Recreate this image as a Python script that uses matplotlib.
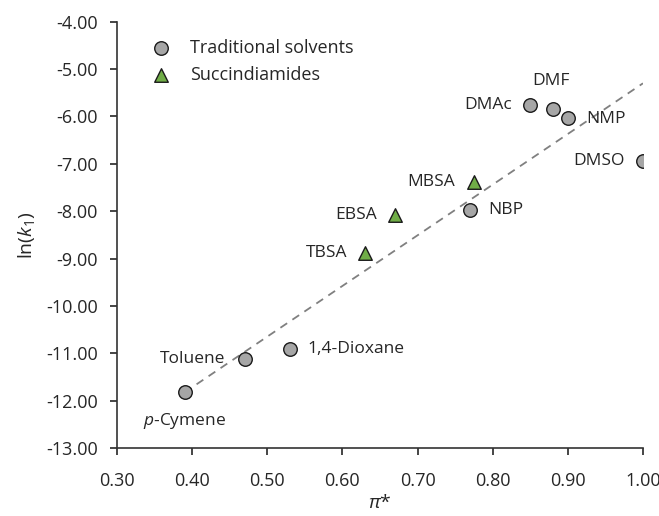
import matplotlib
matplotlib.use("Agg")
import matplotlib.pyplot as plt

plt.rcParams['font.family'] = ['Open Sans', 'DejaVu Sans']
plt.rcParams['mathtext.fontset'] = 'custom'
plt.rcParams['mathtext.rm'] = 'Open Sans'
plt.rcParams['mathtext.it'] = 'Open Sans:italic'

# Traditional solvents
trad_names = ['p-Cymene', 'Toluene', '1,4-Dioxane', 'NBP', 'DMAc', 'DMF', 'NMP', 'DMSO']
trad_x = [0.39, 0.47, 0.53, 0.77, 0.85, 0.88, 0.90, 1.00]
trad_y = [-11.81, -11.12, -10.90, -7.97, -5.76, -5.85, -6.04, -6.94]

# Succindiamides
succ_names = ['TBSA', 'EBSA', 'MBSA']
succ_x = [0.63, 0.67, 0.775]
succ_y = [-8.89, -8.08, -7.38]

# Trend line
fit_x = [0.39, 1.00]
fit_y = [-11.82, -5.30]

xticks = [0.3, 0.4, 0.5, 0.6, 0.7, 0.8, 0.9, 1.0]
yticks = [-13, -12, -11, -10, -9, -8, -7, -6, -5, -4]

# label placement (offset pixels, ha)
label_pos = {
    'p-Cymene': (0, -29, 'center'),
    'Toluene': (-19, 0, 'right'),
    '1,4-Dioxane': (18, 0, 'left'),
    'NBP': (18, 0, 'left'),
    'DMAc': (-18, 0, 'right'),
    'DMF': (-2, 28, 'center'),
    'NMP': (18, -1, 'left'),
    'DMSO': (-18, 0, 'right'),
    'TBSA': (-18, 0, 'right'),
    'EBSA': (-18, 0, 'right'),
    'MBSA': (-19, 0, 'right'),
}

txt = '#262626'
fs = 13
fig = plt.figure(figsize=(6.59, 5.16), dpi=100)
ax = fig.add_axes([0.1775, 0.1312, 0.9757 - 0.1775, 0.958 - 0.1312])

ax.plot(fit_x, fit_y, color='#808080', lw=1.3, ls=(0, (4.5, 3.5)), zorder=1)
ax.scatter(trad_x, trad_y, s=95, marker='o', facecolor='#A6A6A6', edgecolor='#1a1a1a',
           linewidth=1.0, zorder=3, label='Traditional solvents')
ax.scatter(succ_x, succ_y, s=95, marker='^', facecolor='#70AD47', edgecolor='#1a1a1a',
           linewidth=1.0, zorder=3, label='Succindiamides')

for names, xs, ys in [(trad_names, trad_x, trad_y), (succ_names, succ_x, succ_y)]:
    for n, x, y in zip(names, xs, ys):
        dx, dy, ha = label_pos[n]
        lab = r'$\mathit{p}$-Cymene' if n == 'p-Cymene' else n
        ax.annotate(lab, (x, y), xytext=(dx, dy), textcoords='offset pixels',
                    ha=ha, va='center', fontsize=12.5, color=txt, zorder=4)

ax.set_xlim(0.3, 1.0)
ax.set_ylim(-13, -4)
ax.set_xticks(xticks)
ax.set_yticks(yticks)
ax.set_xticklabels([f'{v:.2f}' for v in xticks])
ax.set_yticklabels([f'{v:.2f}' for v in yticks])
ax.tick_params(axis='both', labelsize=fs, colors=txt, length=5, width=1.2, direction='out')
ax.tick_params(axis='x', pad=12)
ax.tick_params(axis='y', pad=9)
for s in ['top', 'right']:
    ax.spines[s].set_visible(False)
for s in ['left', 'bottom']:
    ax.spines[s].set_color('#333333')
    ax.spines[s].set_linewidth(1.2)

ax.set_xlabel(r'$\pi$*', fontsize=14, color=txt, labelpad=3)
ax.set_ylabel(r'ln($\mathit{k}_1$)', fontsize=14, color=txt, labelpad=6)

leg = ax.legend(loc='upper left', bbox_to_anchor=(0.025, 0.99), frameon=False,
                fontsize=fs, handletextpad=0.6, labelspacing=0.5, borderpad=0.2)
for t in leg.get_texts():
    t.set_color(txt)

fig.savefig('out.png', dpi=100)
